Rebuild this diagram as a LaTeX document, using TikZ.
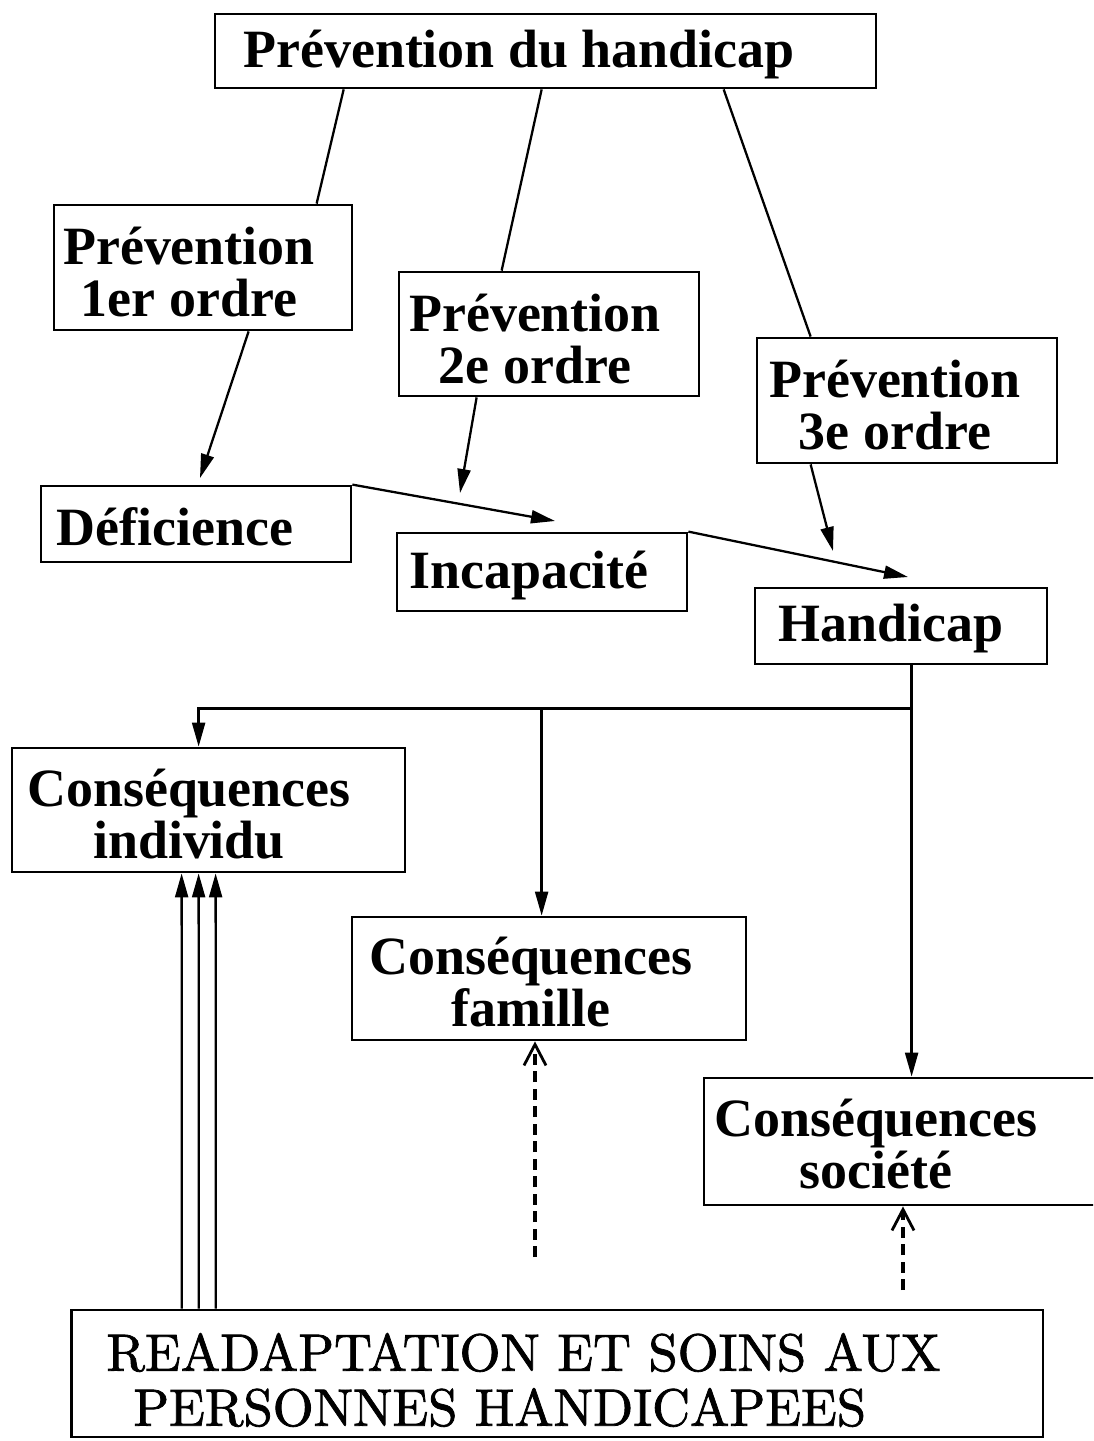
\documentclass[tikz,border=0pt]{standalone}
\usepackage{fontspec}
\setmainfont{Liberation Serif}
\newfontfamily\readfont{lmroman10-regular.otf}[FakeBold=1.5]
\usetikzlibrary{arrows.meta,calc}
\begin{document}
\begin{tikzpicture}[x=0.02cm,y=-0.02cm,
  box/.style={draw, line width=1.6pt, inner sep=0pt},
  lbl/.style={inner sep=0pt, align=center,
    font=\fontsize{30.7}{29.5}\selectfont\bfseries},
  conn/.style={line width=1.3pt},
  tip/.style={-{Triangle[length=0.48cm,width=0.26cm]}},
  dasharrow/.style={line width=2.2pt, dash pattern=on 0.22cm off 0.13cm,
    -{Straight Barb[length=0.42cm,width=0.44cm,line width=1.6pt]}}]
\useasboundingbox (0,0) rectangle (1093,1441);
\clip (0,0) rectangle (1093,1441);
\fill[white] (0,0) rectangle (1093,1441);

% boxes
\node[box, minimum width=13.22cm, minimum height=1.48cm] (top)  at (545.5,51)    {};
\node[box, minimum width=5.96cm,  minimum height=2.5cm]  (p1)   at (203,267.5)   {};
\node[box, minimum width=6.0cm,   minimum height=2.48cm] (p2)   at (549,334)     {};
\node[box, minimum width=6.0cm,   minimum height=2.5cm]  (p3)   at (907,400.5)   {};
\node[box, minimum width=6.2cm,   minimum height=1.52cm] (def)  at (196,524)     {};
\node[box, minimum width=5.8cm,   minimum height=1.56cm] (inc)  at (542,572)     {};
\node[box, minimum width=5.84cm,  minimum height=1.52cm] (hand) at (901,626)     {};
\node[box, minimum width=7.86cm,  minimum height=2.48cm] (ci)   at (208.5,810)   {};
\node[box, minimum width=7.88cm,  minimum height=2.46cm] (cf)   at (549,978.5)   {};
\node[box, minimum width=8.0cm,   minimum height=2.54cm] (cs)   at (904,1141.5)  {};
\node[box, minimum width=19.44cm, minimum height=2.54cm] (read) at (557,1373.5)  {};

% box texts
\node[lbl] (topt)  at (519,54)   {Prévention du handicap};
\node[lbl] (p1t)   at (189,272)  {Prévention\\1er ordre};
\node[lbl] (p2t)   at (535,339)  {Prévention\\2e ordre};
\node[lbl] (p3t)   at (895,405)  {Prévention\\3e ordre};
\node[lbl] (deft)  at (175,527)  {Déficience};
\node[lbl] (inct)  at (529,575)  {Incapacité};
\node[lbl] (handt) at (891,629)  {Handicap};
\node[lbl] (cit)   at (189,814)  {Conséquences\\individu};
\node[lbl] (cft)   at (531,982)  {Conséquences\\famille};
\node[lbl] (cst)   at (876,1144) {Conséquences\\société};
\node[inner sep=0pt, align=left, anchor=west,
      font=\readfont\fontsize{29.9}{31.3}\selectfont] (readt) at (106,1380)
  {READAPTATION ET SOINS AUX\\\hspace*{0.54cm}PERSONNES HANDICAPEES};

% free ends of the arrows
\coordinate (e1) at (200,478);
\coordinate (e2) at (460,493);
\coordinate (e3) at (833,551);
\coordinate (e4) at (555,521);
\coordinate (e5) at (908,577);
\coordinate (d1) at (535,1257);
\coordinate (d2) at (903,1290);

% the three levels of prevention
\draw[conn] ($(top.south west)+(130,0)$) -- ($(p1.north west)+(264,0)$);
\draw[conn] ($(top.south west)+(328,0)$) -- ($(p2.north west)+(104,0)$);
\draw[conn] ($(top.south west)+(510,0)$) -- ($(p3.north west)+(55,0)$);
\draw[conn,tip] ($(p1.south west)+(196,0)$) -- (e1);
\draw[conn,tip] ($(p2.south west)+(79,0)$) -- (e2);
\draw[conn,tip] ($(p3.south west)+(55,0)$) -- (e3);

% deficiency -> disability -> handicap
\draw[conn,tip] (def.north east) -- (e4);
\draw[conn,tip] (inc.north east) -- (e5);

% consequences
\coordinate (hs) at ($(hand.south west)+(158,0)$);
\coordinate (br) at ($(hs)+(0,43)$);
\coordinate (ciin) at ($(ci.north west)+(188,0)$);
\coordinate (cfin) at ($(cf.north west)+(191,0)$);
\draw[conn,tip] (hs) -- (hs |- cs.north);
\draw[conn,tip] (br) -| (ciin);
\draw[conn,tip] (br -| cfin) -- (cfin);

% rehabilitation and care
\foreach \dx in {112,129,146}
  \draw[conn,tip] ($(read.north west)+(\dx,0)$) -- ($(ci.south west)+(\dx+59,0)$);
\draw[dasharrow] (d1) -- (d1 |- cf.south);
\draw[dasharrow] (d2) -- (d2 |- cs.south);
\end{tikzpicture}
\end{document}
